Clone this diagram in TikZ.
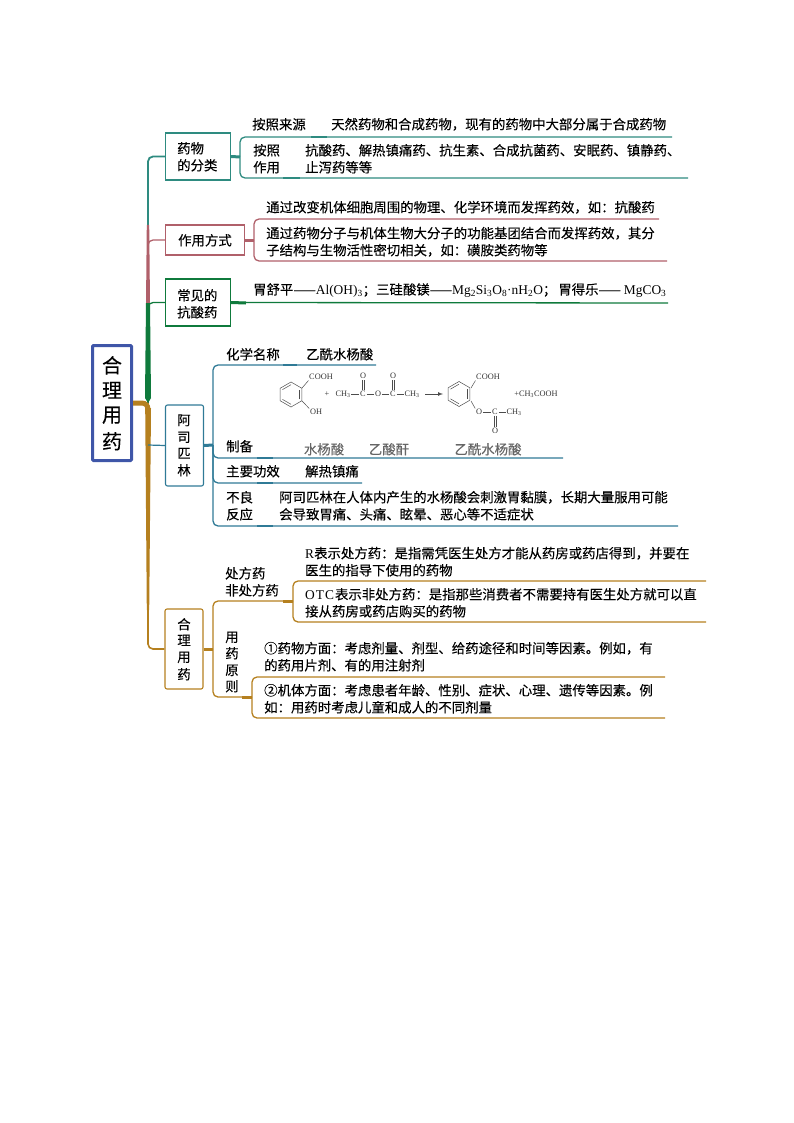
\documentclass[tikz,border=0pt]{standalone}
\usepackage{fontspec}
\setmainfont{Noto Sans CJK SC}[FakeBold=0.15]
\newfontfamily\latinf{Liberation Serif}
\definecolor{tealc}{HTML}{2E8B80}
\definecolor{redc}{HTML}{B0606A}
\definecolor{greenc}{HTML}{0F7A3C}
\definecolor{steelc}{HTML}{2F7A96}
\definecolor{goldc}{HTML}{B5801F}
\definecolor{bluec}{HTML}{3F56A8}
\tikzset{
  txt/.style={anchor=west,inner sep=0pt,yshift=-0.3pt,text=black,font=\fontsize{13.4}{15}\selectfont},
  gray txt/.style={anchor=center,inner sep=0pt,yshift=-0.3pt,text=black!60,font=\fontsize{13.4}{15}\selectfont},
  box/.style={draw=#1,line width=1.1pt,minimum width=0pt,inner sep=0pt},
  vtxt/.style={anchor=center,inner sep=0pt,yshift=-0.3pt,text=black,font=\fontsize{13.4}{15}\selectfont},
  ln/.style={draw=#1,line width=1.3pt,rounded corners=5pt},
  stub/.style={draw=#1,line width=3pt},
  thickpiece/.style={draw=#1,line width=2.2pt},
  atom/.style={inner sep=0.6pt,text=black!80,font=\latinf\fontsize{8.3}{10}\selectfont},
  bond/.style={draw=black!70,line width=0.5pt}
}
\newcommand{\sub}[1]{\textsubscript{#1}}
\newcommand{\dou}{\symbol{"FF0C}}
\newcommand{\mao}{\symbol{"FF1A}}
\newcommand{\fenh}{\symbol{"FF1B}}
\begin{document}
\begin{tikzpicture}[x=1pt,y=-1pt]
\useasboundingbox (0,0) rectangle (794,1123);
\coordinate (trunk) at (148,403);
\node[draw=bluec,line width=3pt,rounded corners=1pt,minimum width=39pt,minimum height=115pt,inner sep=0pt] (root) at (112,403) {};
\node[vtxt,font=\fontsize{20}{22}\selectfont] (rootA) at (112,365) {合};
\node[vtxt,font=\fontsize{20}{22}\selectfont] (rootB) at (112,390) {理};
\node[vtxt,font=\fontsize{20}{22}\selectfont] (rootC) at (112,415) {用};
\node[vtxt,font=\fontsize{20}{22}\selectfont] (rootD) at (112,441) {药};

\node[box=tealc,minimum width=65pt,minimum height=47pt] (fen) at (198,156.5) {};
\node[txt] (fenA) at (177,148) {药物};
\node[txt] (fenB) at (177,165) {的分类};
\node[box=redc,minimum width=79pt,minimum height=30pt] (way) at (205,240) {};
\node[vtxt] (wayA) at (205,240) {作用方式};
\node[box=greenc,minimum width=65pt,minimum height=47pt] (anti) at (198,302.5) {};
\node[txt] (antiA) at (177,295) {常见的};
\node[txt] (antiB) at (177,312) {抗酸药};
\node[box=steelc,rounded corners=2pt,minimum width=38pt,minimum height=81pt] (asp) at (184.5,445.5) {};
\node[vtxt] (aspA) at (184,420) {阿};
\node[vtxt] (aspB) at (184,437) {司};
\node[vtxt] (aspC) at (184,453) {匹};
\node[vtxt] (aspD) at (184,470) {林};
\node[box=goldc,rounded corners=2pt,minimum width=38pt,minimum height=80pt] (use) at (184,649) {};
\node[vtxt] (useA) at (184,624) {合};
\node[vtxt] (useB) at (184,640) {理};
\node[vtxt] (useC) at (184,657) {用};
\node[vtxt] (useD) at (184,674) {药};

\coordinate (fenL) at (240,157);
\coordinate (fenU) at (672,137);
\coordinate (fenV) at (688,178);
\coordinate (wayL) at (254,240);
\coordinate (wayU) at (659,219);
\coordinate (wayV) at (667,261);
\coordinate (antiU) at (668,303);
\coordinate (aspL) at (213,445);
\coordinate (aspU) at (376,365);
\coordinate (aspV) at (563,458);
\coordinate (aspW) at (362,483);
\coordinate (aspX) at (678,526);
\coordinate (useL) at (213,649);
\coordinate (useT) at (293,601);
\coordinate (useB2) at (252,697);
\coordinate (useU) at (706,581);
\coordinate (useV) at (706,622);
\coordinate (useW) at (665,677);
\coordinate (useX) at (665,718);

\draw[ln=tealc,line width=1.8pt] (trunk) |- (fen.west);
\draw[ln=redc,line width=1.3pt] (trunk) |- (way.west);
\fill[redc] (146.8,225) -- (149.2,225) -- (150,305) -- (146,305) -- cycle;
\draw[ln=greenc,line width=1.3pt] (trunk) |- (anti.west);
\fill[greenc] (146,303) -- (150,303) -- (151,398) -- (148,403) -- (145,398) -- cycle;
\draw[ln=goldc,line width=1.6pt] (trunk) |- (use.west);
\fill[goldc] (145.2,408) -- (151,408) -- (149.2,610) -- (146.8,610) -- cycle;
\draw[goldc,line width=5pt,rounded corners=6pt] (root.east) -- (trunk) -- (148,412);
\draw[steelc,line width=1.2pt] (148,445) -- (asp.west);

\draw[stub=tealc] (fen.east) -- (fenL);
\draw[ln=tealc] (fenL) |- (fenU);
\draw[ln=tealc] (fenL) |- (fenV);
\draw[thickpiece=tealc] (311,137) -- (327,137);
\draw[thickpiece=tealc] (283,178) -- (300,178);
\draw[stub=redc] (way.east) -- (wayL);
\draw[ln=redc] (wayL) |- (wayU);
\draw[ln=redc] (wayL) |- (wayV);
\draw[stub=greenc] (anti.east) -- (246,303);
\draw[greenc,line width=1.3pt] (anti.east) -- (antiU);
\draw[stub=steelc] (asp.east) -- (aspL);
\draw[ln=steelc] (aspL) |- (aspU);
\draw[ln=steelc] (aspL) |- (aspV);
\draw[ln=steelc] (aspL) |- (aspW);
\draw[ln=steelc] (aspL) |- (aspX);
\draw[thickpiece=steelc] (283,365) -- (297,365);
\draw[thickpiece=steelc] (257,458) -- (273,458);
\draw[thickpiece=steelc] (257,483) -- (273,483);
\draw[thickpiece=steelc] (257,526) -- (273,526);
\draw[stub=goldc] (use.east) -- (useL);
\draw[ln=goldc] (useL) |- (useT);
\draw[ln=goldc] (useL) |- (useB2);
\draw[stub=goldc] (283,601) -- (useT);
\draw[ln=goldc] (useT) |- (useU);
\draw[ln=goldc] (useT) |- (useV);
\draw[stub=goldc] (242,697) -- (useB2);
\draw[ln=goldc] (useB2) |- (useW);
\draw[ln=goldc] (useB2) |- (useX);

\node[txt] (srcA) at (252,124) {按照来源};
\node[txt] (srcB) at (331,124) {天然药物和合成药物\dou 现有的药物中大部分属于合成药物};
\node[txt] (actA) at (253,150) {按照};
\node[txt] (actB) at (253,167) {作用};
\node[txt] (actC) at (305,150) {抗酸药、解热镇痛药、抗生素、合成抗菌药、安眠药、镇静药、};
\node[txt] (actD) at (305,167) {止泻药等等};
\node[txt] (wayB) at (266,207) {通过改变机体细胞周围的物理、化学环境而发挥药效\dou 如\mao 抗酸药};
\node[txt] (wayC) at (266,233) {通过药物分子与机体生物大分子的功能基团结合而发挥药效\dou 其分};
\node[txt] (wayD) at (266,250) {子结构与生物活性密切相关\dou 如\mao 磺胺类药物等};
\node[txt] (antiC) at (253,290) {胃舒平——{\latinf Al(OH)\sub{3}}\fenh 三硅酸镁——{\latinf Mg\sub{2}Si\sub{3}O\sub{8}·nH\sub{2}O}\fenh\hspace{2pt}胃得乐——\hspace{3pt}{\latinf MgCO\sub{3}}};
\node[txt] (nameA) at (226,354) {化学名称};
\node[txt] (nameB) at (306,354) {乙酰水杨酸};
\node[txt] (prepA) at (226,446) {制备};
\node[gray txt] (prepB) at (324,449) {水杨酸};
\node[gray txt] (prepC) at (389,449) {乙酸酐};
\node[gray txt] (prepD) at (488,449) {乙酰水杨酸};
\node[txt] (effA) at (226,471) {主要功效};
\node[txt] (effB) at (305,471) {解热镇痛};
\node[txt] (badA) at (226,497) {不良};
\node[txt] (badB) at (226,514) {反应};
\node[txt] (badC) at (279,497) {阿司匹林在人体内产生的水杨酸会刺激胃黏膜\dou 长期大量服用可能};
\node[txt] (badD) at (279,514) {会导致胃痛、头痛、眩晕、恶心等不适症状};
\node[txt] (rxA) at (225,573) {处方药};
\node[txt] (rxB) at (225,590) {非处方药};
\node[txt] (rxC) at (305,553) {{\latinf R}表示处方药\mao 是指需凭医生处方才能从药房或药店得到\dou 并要在};
\node[txt] (rxD) at (305,570) {医生的指导下使用的药物};
\node[txt] (rxE) at (305,594) {{\latinf O\kern1pt T\kern1pt C\kern1pt}表示非处方药\mao 是指那些消费者不需要持有医生处方就可以直};
\node[txt] (rxF) at (305,611) {接从药房或药店购买的药物};
\node[vtxt] (ruleA) at (232,637) {用};
\node[vtxt] (ruleB) at (232,653) {药};
\node[vtxt] (ruleC) at (232,670) {原};
\node[vtxt] (ruleD) at (232,686) {则};
\node[txt] (ruleE) at (264,648) {①药物方面\mao 考虑剂量、剂型、给药途径和时间等因素。例如\dou 有};
\node[txt] (ruleF) at (264,665) {的药用片剂、有的用注射剂};
\node[txt] (ruleG) at (264,690) {②机体方面\mao 考虑患者年龄、性别、症状、心理、遗传等因素。例};
\node[txt] (ruleH) at (264,707) {如\mao 用药时考虑儿童和成人的不同剂量};

\coordinate (ringA) at (291,394.5);
\coordinate (ringB) at (459,394);
\foreach \c in {ringA,ringB}{
  \draw[bond] (\c)+(30:12.5) -- +(90:12.5) -- +(150:12.5) -- +(210:12.5) -- +(270:12.5) -- +(330:12.5) -- cycle;
  \draw[bond] (\c)+(30:9.8) -- +(330:9.8);
  \draw[bond] (\c)+(90:9.8) -- +(150:9.8);
  \draw[bond] (\c)+(210:9.8) -- +(270:9.8);
}
\node[atom] (cooA) at (321,377) {COOH};
\node[atom] (ohA) at (316,412) {OH};
\node[atom] (plusA) at (327,394) {+};
\node[atom] (meA) at (343,394) {CH\sub{3}};
\node[atom] (cA) at (363,394) {C};
\node[atom] (oA) at (363,376) {O};
\node[atom] (oB) at (378,394) {O};
\node[atom] (cB) at (393,394) {C};
\node[atom] (oC) at (393,376) {O};
\node[atom] (meB) at (412,394) {CH\sub{3}};
\coordinate (arrA) at (425,394);
\coordinate (arrB) at (443,394);
\node[atom] (cooB) at (488,377) {COOH};
\node[atom] (oD) at (479,412) {O};
\node[atom] (cC) at (495,412) {C};
\node[atom] (meC) at (514,412) {CH\sub{3}};
\node[atom] (oE) at (495,431) {O};
\node[atom] (acid) at (536,394) {+CH\sub{3}COOH};
\draw[bond] (302,388) -- (cooA.south west);
\draw[bond] (302,401) -- (ohA.north west);
\draw[bond] (471,388) -- (cooB.south west);
\draw[bond] (471,401) -- (oD.north west);
\draw[bond] (meA) -- (cA);
\draw[bond] (cA) -- (oB);
\draw[bond] (oB) -- (cB);
\draw[bond] (cB) -- (meB);
\draw[bond] (oD) -- (cC);
\draw[bond] (cC) -- (meC);
\foreach \a/\b in {cA/oA,cB/oC}{
  \draw[bond] ([xshift=-.9pt]\a.north) -- ([xshift=-.9pt]\b.south);
  \draw[bond] ([xshift=.9pt]\a.north) -- ([xshift=.9pt]\b.south);
}
\draw[bond] ([xshift=-.9pt]cC.south) -- ([xshift=-.9pt]oE.north);
\draw[bond] ([xshift=.9pt]cC.south) -- ([xshift=.9pt]oE.north);
\draw[bond,line width=0.7pt,-latex] (arrA) -- (arrB);
\end{tikzpicture}
\end{document}
